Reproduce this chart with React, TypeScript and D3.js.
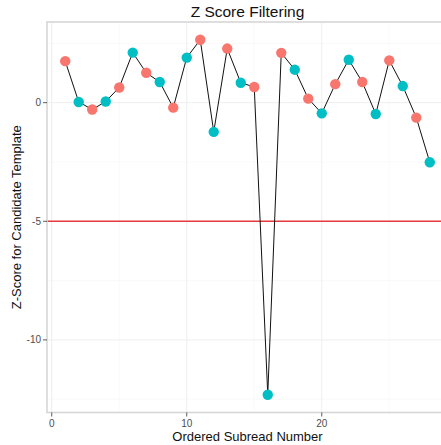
import React from "react";
import * as d3 from "d3";

const subread: number[] = Array.from({ length: 28 }, (_, i) => i + 1);
const zScores: number[] = [
  1.75, 0.03, -0.29, 0.05, 0.64, 2.11, 1.26, 0.87, -0.21, 1.9, 2.65, -1.23, 2.28, 0.84,
  0.66, -12.31, 2.1, 1.39, 0.17, -0.45, 0.78, 1.81, 0.87, -0.48, 1.78, 0.7, -0.63, -2.51,
];
const strands: string[] = subread.map((s) => (s % 2 === 1 ? "fwd" : "rev"));
const strandColors: Record<string, string> = { fwd: "#F8766D", rev: "#00BFC4" };
const xTicks = [0, 10, 20];
const yTicks = [0, -5, -10];
const threshold = -5;

const W = 441;
const H = 445;
const M = { left: 47, right: -7, top: 22, bottom: 32.5 };

export default function App() {
  const x = d3.scaleLinear().domain([-0.35, 29.35]).range([M.left, W - M.right]);
  const y = d3.scaleLinear().domain([-13.06, 3.4]).range([H - M.bottom, M.top]);
  const line = d3
    .line<number>()
    .x((_, i) => x(subread[i]))
    .y((d) => y(d));
  const xMinor = [5, 15, 25];
  const yMinor = [2.5, -2.5, -7.5, -12.5];
  const px0 = x.range()[0];
  const px1 = x.range()[1];
  const py0 = y.range()[1];
  const py1 = y.range()[0];
  const font = "Liberation Sans, Arial, sans-serif";
  return (
    <svg width={W} height={H} style={{ position: "absolute", left: 0, top: 0 }} fontFamily={font}>
      <defs>
        <clipPath id="panel">
          <rect x={px0} y={py0} width={px1 - px0} height={py1 - py0} />
        </clipPath>
      </defs>
      <rect width={W} height={H} fill="white" />
      <g clipPath="url(#panel)">
        {xMinor.map((v) => (
          <line key={"xm" + v} x1={x(v)} x2={x(v)} y1={py0} y2={py1} stroke="#F5F5F5" strokeWidth={0.6} />
        ))}
        {yMinor.map((v) => (
          <line key={"ym" + v} x1={px0} x2={px1} y1={y(v)} y2={y(v)} stroke="#F5F5F5" strokeWidth={0.6} />
        ))}
        {xTicks.map((v) => (
          <line key={"xg" + v} x1={x(v)} x2={x(v)} y1={py0} y2={py1} stroke="#EEEEEE" strokeWidth={1} />
        ))}
        {yTicks.map((v) => (
          <line key={"yg" + v} x1={px0} x2={px1} y1={y(v)} y2={y(v)} stroke="#EEEEEE" strokeWidth={1} />
        ))}
        <line x1={px0} x2={px1} y1={y(threshold)} y2={y(threshold)} stroke="#E8383D" strokeWidth={1.4} />
        <path d={line(zScores) || ""} fill="none" stroke="#111" strokeWidth={1} />
        {zScores.map((v, i) => (
          <circle key={i} cx={x(subread[i])} cy={y(v)} r={5.2} fill={strandColors[strands[i]]} />
        ))}
      </g>
      <rect x={px0} y={py0} width={px1 - px0} height={py1 - py0} fill="none" stroke="#D6D6D6" strokeWidth={1.6} />
      {yTicks.map((v) => (
        <g key={"yt" + v}>
          <line x1={px0 - 4} x2={px0} y1={y(v)} y2={y(v)} stroke="#333" strokeWidth={0.8} />
          <text x={px0 - 6} y={y(v)} dy="0.35em" textAnchor="end" fontSize={10} fill="#4D4D4D">
            {v}
          </text>
        </g>
      ))}
      {xTicks.map((v) => (
        <g key={"xt" + v}>
          <line x1={x(v)} x2={x(v)} y1={py1} y2={py1 + 4} stroke="#333" strokeWidth={0.8} />
          <text x={x(v)} y={py1 + 14} textAnchor="middle" fontSize={10} fill="#4D4D4D">
            {v}
          </text>
        </g>
      ))}
      <text x={(px0 + px1) / 2} y={17} textAnchor="middle" fontSize={15.5} fill="#111">
        Z Score Filtering
      </text>
      <text x={(px0 + px1) / 2} y={441} textAnchor="middle" fontSize={13} fill="#111">
        Ordered Subread Number
      </text>
      <text
        transform={`translate(21, ${(py0 + py1) / 2}) rotate(-90)`}
        textAnchor="middle"
        fontSize={13}
        fill="#111"
      >
        Z-Score for Candidate Template
      </text>
    </svg>
  );
}
